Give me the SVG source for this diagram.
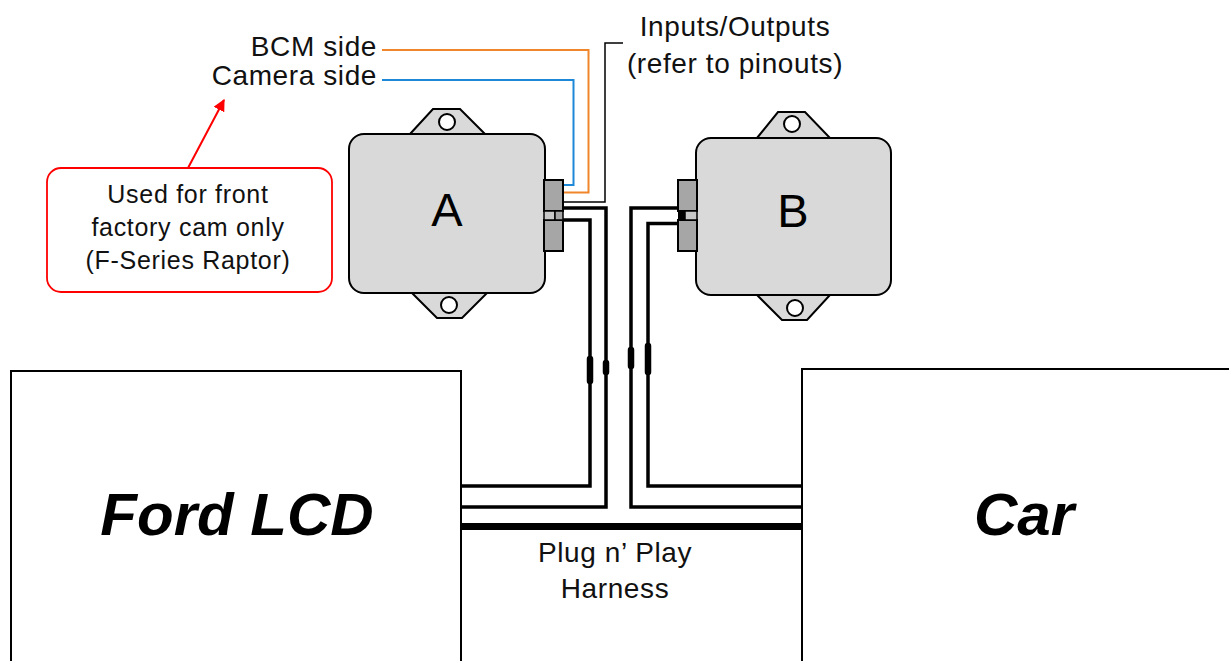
<svg xmlns="http://www.w3.org/2000/svg" width="1229" height="661" viewBox="0 0 1229 661">
<defs>
<style>
.box{fill:#fff;stroke:#000;stroke-width:2}
.big{font-family:"Liberation Sans",Arial,sans-serif;font-weight:bold;font-style:italic;font-size:60px;fill:#000}
.lbl{font-family:"Liberation Sans",Arial,sans-serif;font-size:28px;letter-spacing:0.6px;fill:#111}
.cal{font-family:"Liberation Sans",Arial,sans-serif;font-size:25px;letter-spacing:0.7px;fill:#111}
.mod{fill:#d9d9d9;stroke:#000;stroke-width:2}
.hole{fill:#fff;stroke:#000;stroke-width:2}
.conn{fill:#a6a6a6;stroke:#000;stroke-width:2}
.modtxt{font-family:"Liberation Sans",Arial,sans-serif;font-size:47px;fill:#000}
.wire{fill:none;stroke:#000;stroke-width:3.5}
.thin{fill:none;stroke:#000;stroke-width:1.5}
.brk{stroke:#000;stroke-width:6.5;stroke-linecap:round}
</style>
<marker id="redArrow" viewBox="0 0 10 10" refX="9" refY="5" markerWidth="6" markerHeight="6" markerUnits="strokeWidth" orient="auto">
<path d="M0,0 L10,5 L0,10 z" fill="#ff0000"/>
</marker>
</defs>

<g id="ford-lcd">
<rect class="box" x="11" y="371" width="450" height="300"/>
<text class="big" x="237" y="535" text-anchor="middle">Ford LCD</text>
</g>

<g id="car">
<rect class="box" x="802" y="369" width="440" height="300"/>
<text class="big" x="1024" y="535" text-anchor="middle">Car</text>
</g>

<g id="connectors">
<line x1="461" y1="526.5" x2="802" y2="526.5" stroke="#000" stroke-width="7"/>
<path class="wire" d="M563,220 H590 V486 H461"/>
<path class="wire" d="M563,208 H606 V507 H461"/>
<path class="wire" d="M678,208 H631 V507 H802"/>
<path class="wire" d="M678,223.5 H648 V486 H802"/>
<line class="brk" x1="590" y1="359" x2="590" y2="381"/>
<line class="brk" x1="606" y1="363" x2="606" y2="372"/>
<line class="brk" x1="631" y1="350" x2="631" y2="366"/>
<line class="brk" x1="648" y1="346" x2="648" y2="372"/>
<path class="thin" d="M563,202 H605 V43 H623"/>
<path fill="none" stroke="#f0862b" stroke-width="2" d="M382,50 H588.5 V192.5 H563"/>
<path fill="none" stroke="#1e88d8" stroke-width="2" d="M382,80 H573.5 V185 H563"/>
<line x1="188" y1="168" x2="224" y2="100" stroke="#ff0000" stroke-width="2" marker-end="url(#redArrow)"/>
</g>

<g id="module-a">
<path class="mod" d="M410,134 L433,109 H460 L485,134 Z"/>
<circle class="hole" cx="447" cy="122" r="8"/>
<path class="mod" d="M412,293 L437,318 H462 L487,293 Z"/>
<circle class="hole" cx="449" cy="305" r="8"/>
<rect class="mod" x="349" y="134" width="196" height="159" rx="15" ry="15"/>
<text class="modtxt" x="447" y="226" text-anchor="middle">A</text>
<rect class="conn" x="544" y="180" width="19" height="31"/>
<rect class="conn" x="544" y="220" width="19" height="31"/>
<rect x="544" y="211" width="11" height="9" fill="#c8c8c8" stroke="#000" stroke-width="1.5"/>
<rect x="555" y="211" width="8" height="9" fill="#a6a6a6" stroke="#000" stroke-width="1.5"/>
</g>

<g id="module-b">
<path class="mod" d="M757,138 L778,112 H805 L830,138 Z"/>
<circle class="hole" cx="792" cy="124" r="8"/>
<path class="mod" d="M757,295 L782,320 H807 L830,295 Z"/>
<circle class="hole" cx="795" cy="308" r="8"/>
<rect class="mod" x="696" y="138" width="195" height="157" rx="15" ry="15"/>
<text class="modtxt" x="793" y="227" text-anchor="middle">B</text>
<rect class="conn" x="678" y="180" width="19" height="31"/>
<rect class="conn" x="678" y="220" width="19" height="31"/>
<rect x="685" y="211" width="12" height="9" fill="#c8c8c8" stroke="#000" stroke-width="1.5"/>
<rect x="678" y="211" width="7" height="9" fill="#000"/>
</g>

<g id="callout">
<rect x="47" y="168" width="285" height="124" rx="14" ry="14" fill="#fff" stroke="#ff0000" stroke-width="1.8"/>
<text class="cal" x="188" y="203" text-anchor="middle">Used for front</text>
<text class="cal" x="188" y="236" text-anchor="middle">factory cam only</text>
<text class="cal" x="188" y="269" text-anchor="middle">(F-Series Raptor)</text>
</g>

<g id="label-bcm">
<text class="lbl" x="377" y="56" text-anchor="end">BCM side</text>
</g>
<g id="label-camera">
<text class="lbl" x="377" y="85" text-anchor="end">Camera side</text>
</g>
<g id="label-io">
<text class="lbl" x="735" y="36" text-anchor="middle">Inputs/Outputs</text>
<text class="lbl" x="735" y="73" text-anchor="middle">(refer to pinouts)</text>
</g>
<g id="label-harness">
<text class="lbl" x="615" y="562" text-anchor="middle">Plug n’ Play</text>
<text class="lbl" x="615" y="598" text-anchor="middle">Harness</text>
</g>
</svg>
